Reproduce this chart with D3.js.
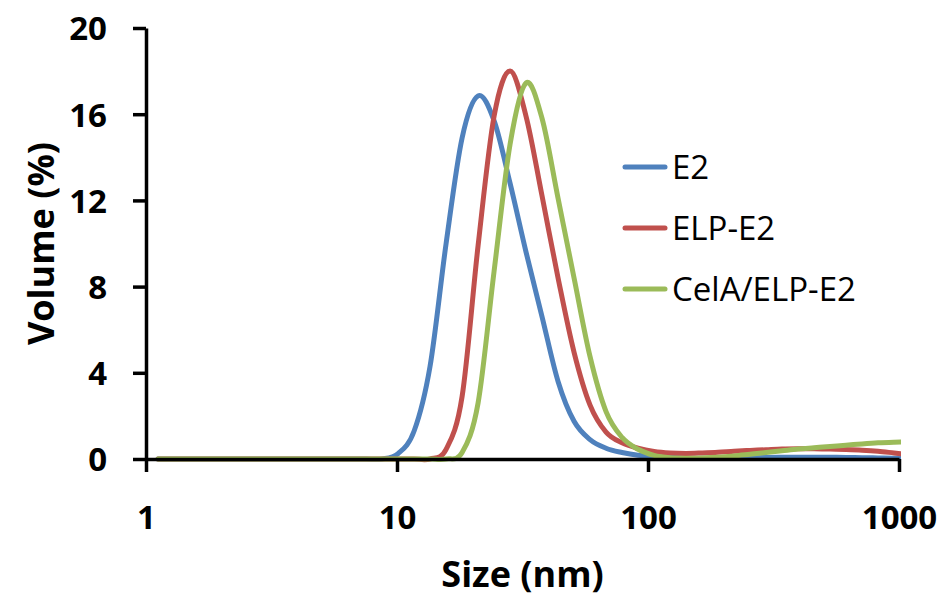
<!DOCTYPE html>
<html>
<head>
<meta charset="utf-8">
<script src="https://cdn.jsdelivr.net/npm/d3@7/dist/d3.min.js"></script>
<style>
  html, body { margin: 0; padding: 0; background: #ffffff; }
  svg { display: block; }
  text { font-family: "Open Sans", Lato, sans-serif; fill: #000; }
</style>
</head>
<body>
<svg id="chart" width="947" height="601"></svg>
<script>
// Size bins (nm)
const sizes = [1.117, 1.294, 1.499, 1.736, 2.010, 2.328, 2.696, 3.122, 3.615, 4.187, 4.849, 5.615, 6.503, 7.531, 8.721,
  10.10, 11.70, 13.54, 15.69, 18.17, 21.04, 24.36, 28.21, 32.67, 37.84, 43.82, 50.75, 58.77, 68.06, 78.82, 91.28,
  105.7, 122.4, 141.8, 164.2, 190.1, 220.2, 255.0, 295.3, 342.0, 396.1, 458.7, 531.2, 615.1, 712.4, 825.0, 955.4, 1106];

// Volume (%) per series
const e2 = [0, 0, 0, 0, 0, 0, 0, 0, 0, 0, 0, 0, 0, 0, 0,
  0.25, 1.3, 4.3, 10.0, 14.9, 16.85, 15.7, 12.8, 9.6, 6.6, 3.6, 1.75, 0.9, 0.5, 0.3, 0.17,
  0.11, 0.08, 0.05, 0.04, 0.04, 0.05, 0.06, 0.07, 0.08, 0.08, 0.08, 0.08, 0.07, 0.06, 0.05, 0.04, 0.02];
const elpE2 = [0, 0, 0, 0, 0, 0, 0, 0, 0, 0, 0, 0, 0, 0, 0,
  0, 0, 0, 0.45, 2.9, 9.9, 15.9, 18.0, 15.9, 12.2, 8.4, 4.95, 2.5, 1.25, 0.75, 0.5,
  0.35, 0.28, 0.26, 0.28, 0.31, 0.36, 0.40, 0.43, 0.46, 0.47, 0.47, 0.46, 0.44, 0.41, 0.36, 0.28, 0.20];
const celaElpE2 = [0, 0, 0, 0, 0, 0, 0, 0, 0, 0, 0, 0, 0, 0, 0,
  0, 0, 0, 0, 0.3, 2.6, 8.7, 14.6, 17.45, 15.8, 12.1, 8.4, 4.75, 2.2, 1.0, 0.45,
  0.17, 0.06, 0.04, 0.05, 0.08, 0.14, 0.22, 0.30, 0.38, 0.46, 0.52, 0.58, 0.64, 0.70, 0.75, 0.78, 0.80];

const seriesNames = ["E2", "ELP-E2", "CelA/ELP-E2"];
const seriesColors = ["#4F81BD", "#C0504D", "#9BBB59"];
const seriesValues = [e2, elpE2, celaElpE2];

const xTicks = [1, 10, 100, 1000];
const yTicks = [0, 4, 8, 12, 16, 20];
const xTitle = "Size (nm)";
const yTitle = "Volume (%)";

const svg = d3.select("#chart");
const x = d3.scaleLog().domain([1, 1000]).range([146, 899]);
const y = d3.scaleLinear().domain([0, 20]).range([459, 28]);

svg.append("defs").append("clipPath").attr("id", "plotclip")
  .append("rect").attr("x", 146).attr("y", 0).attr("width", 901 - 146).attr("height", 470);

// series
const line = d3.line()
  .x((d, i) => x(sizes[i]))
  .y(d => y(d))
  .curve(d3.curveCatmullRom.alpha(0));

const g = svg.append("g").attr("clip-path", "url(#plotclip)");
seriesValues.forEach((vals, k) => {
  g.append("path")
    .datum(vals)
    .attr("d", line)
    .attr("fill", "none")
    .attr("stroke", seriesColors[k])
    .attr("stroke-width", 5)
    .attr("stroke-linecap", "round")
    .attr("stroke-linejoin", "round");
});

// axes
const yAxis = d3.axisLeft(y).tickValues(yTicks).tickSize(13).tickSizeOuter(0).tickPadding(26).tickFormat(d3.format("d"));
const xAxis = d3.axisBottom(x).tickValues(xTicks).tickSize(13).tickSizeOuter(0).tickPadding(34).tickFormat(d3.format("d"));

const gy = svg.append("g").attr("transform", "translate(146,0)").call(yAxis);
const gx = svg.append("g").attr("transform", "translate(0,459)").call(xAxis);

[gx, gy].forEach(ax => {
  ax.select(".domain").attr("stroke", "#000").attr("stroke-width", 3.5);
  ax.selectAll(".tick line").attr("stroke", "#000").attr("stroke-width", 3.5);
  ax.selectAll(".tick text")
    .style("font-family", "'Open Sans', sans-serif")
    .style("font-weight", "bold")
    .style("font-size", "33px")
    .attr("fill", "#000");
});
gy.selectAll(".tick text").attr("dy", "0.36em");

// axis titles
svg.append("text")
  .attr("x", 522.5).attr("y", 587)
  .attr("text-anchor", "middle")
  .style("font-weight", "bold").style("font-size", "36px")
  .text(xTitle);

svg.append("text")
  .attr("transform", "translate(54,243.5) rotate(-90)")
  .attr("text-anchor", "middle")
  .style("font-weight", "bold").style("font-size", "36px")
  .text(yTitle);

// legend
const legendY = [167, 228, 289];
seriesNames.forEach((name, k) => {
  svg.append("line")
    .attr("x1", 625).attr("x2", 665)
    .attr("y1", legendY[k]).attr("y2", legendY[k])
    .attr("stroke", seriesColors[k]).attr("stroke-width", 5)
    .attr("stroke-linecap", "round");
  svg.append("text")
    .attr("x", 672).attr("y", legendY[k])
    .attr("dy", "0.35em")
    .style("font-size", "33px")
    .text(name);
});
</script>
</body>
</html>
